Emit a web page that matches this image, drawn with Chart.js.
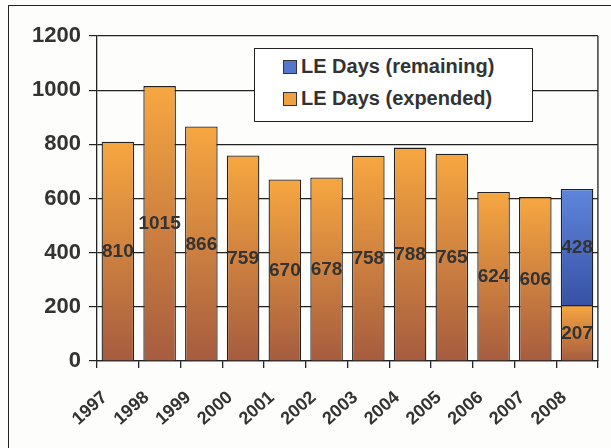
<!DOCTYPE html>
<html>
<head>
<meta charset="utf-8">
<script src="https://cdn.jsdelivr.net/npm/chart.js@4/dist/chart.umd.min.js"></script>
<style>
  body { margin: 0; background: #fdfdfc; }
  #wrap { position: relative; width: 611px; height: 448px; overflow: hidden; }
  #frame { position: absolute; left: 8px; top: 5px; width: 610px; height: 470px; border: 1.5px solid #222; }
  #legendBox { position: absolute; left: 254px; top: 48px; width: 277px; height: 72px; border: 1.5px solid #222; background: #fff;
    font: bold 20px "Liberation Sans", Arial, sans-serif; color: #333; }
  .item { position: absolute; left: 28px; display: flex; align-items: center; white-space: nowrap; }
  .sw { width: 12px; height: 12px; border: 1px solid #333; margin-right: 4px; }
  canvas { position: absolute; left: 0; top: 0; }
</style>
</head>
<body>
<div id="wrap">
  <div id="frame"></div>
  <canvas id="chart" width="611" height="448"></canvas>
  <div id="legendBox">
    <div class="item" style="top:6px"><div class="sw" style="background:#5476cc"></div>LE Days (remaining)</div>
    <div class="item" style="top:38px"><div class="sw" style="background:#f0a040"></div>LE Days (expended)</div>
  </div>
</div>
<script>
// chart data
const years = ['1997', '1998', '1999', '2000', '2001', '2002', '2003', '2004', '2005', '2006', '2007', '2008'];
const daysExpended = [810, 1015, 866, 759, 670, 678, 758, 788, 765, 624, 606, 207];
const daysRemaining = [null, null, null, null, null, null, null, null, null, null, null, 428];
const yTicks = [0, 200, 400, 600, 800, 1000, 1200];

// vertical gradient per bar, from top of the bar to its base
function barGradient(context, topColor, bottomColor) {
    const chart = context.chart;
    if (!chart.chartArea || context.dataIndex === undefined) return topColor;
    const y = chart.scales.y;
    const raw = context.raw;
    if (raw === null || raw === undefined) return topColor;
    let base = 0;
    if (context.datasetIndex === 1) base = daysExpended[context.dataIndex] || 0;
    const top = y.getPixelForValue(base + raw);
    const bottom = y.getPixelForValue(base);
    if (!isFinite(top) || !isFinite(bottom) || top === bottom) return topColor;
    const g = chart.ctx.createLinearGradient(0, top, 0, bottom);
    g.addColorStop(0, topColor);
    g.addColorStop(1, bottomColor);
    return g;
}

// values written in the middle of each bar
const barLabels = {
    id: 'barLabels',
    afterDatasetsDraw(chart) {
        const ctx = chart.ctx;
        ctx.save();
        ctx.font = 'bold 19px "Liberation Sans", Arial, sans-serif';
        ctx.fillStyle = '#333';
        ctx.textAlign = 'center';
        ctx.textBaseline = 'middle';
        chart.data.datasets.forEach((ds, di) => {
            const meta = chart.getDatasetMeta(di);
            meta.data.forEach((bar, i) => {
                if (ds.data[i] === null) return;
                ctx.fillText(ds.data[i], bar.x, (bar.y + bar.base) / 2 + 1);
            });
        });
        ctx.restore();
    }
};

// right edge of the plot frame
const plotFrame = {
    id: 'plotFrame',
    beforeDatasetsDraw(chart) {
        const a = chart.chartArea;
        const ctx = chart.ctx;
        ctx.save();
        ctx.strokeStyle = '#222';
        ctx.lineWidth = 1.3;
        ctx.beginPath();
        ctx.moveTo(a.right, a.top);
        ctx.lineTo(a.right, a.bottom);
        ctx.stroke();
        ctx.restore();
    }
};

new Chart(document.getElementById('chart'), {
    type: 'bar',
    data: {
        labels: years,
        datasets: [{
            label: 'LE Days (expended)',
            data: daysExpended,
            backgroundColor: ctx => barGradient(ctx, '#f7a740', '#a65c3f'),
            borderColor: '#222',
            borderWidth: 1.3,
            barPercentage: 0.78,
            categoryPercentage: 1
        }, {
            label: 'LE Days (remaining)',
            data: daysRemaining,
            backgroundColor: ctx => barGradient(ctx, '#5f86dc', '#3752a6'),
            borderColor: '#222',
            borderWidth: 1.3,
            barPercentage: 0.78,
            categoryPercentage: 1
        }]
    },
    options: {
        responsive: false,
        animation: false,
        layout: { padding: { top: 36, right: 12, left: 0, bottom: 0 } },
        plugins: { legend: { display: false }, tooltip: { enabled: false } },
        scales: {
            x: {
                stacked: true,
                grid: { drawOnChartArea: false, offset: true, color: '#222', lineWidth: 1.3, tickLength: 7 },
                border: { color: '#222', width: 1.3 },
                ticks: {
                    color: '#333',
                    font: { family: '"Liberation Sans", Arial, sans-serif', size: 18, weight: 'bold' },
                    minRotation: 42,
                    maxRotation: 42,
                    padding: 19,
                    labelOffset: -13
                },
                afterFit: scale => { scale.height = 87; }
            },
            y: {
                stacked: true,
                min: 0,
                max: 1200,
                afterBuildTicks: scale => { scale.ticks = yTicks.map(v => ({ value: v })); },
                grid: { color: '#222', lineWidth: 1.2, tickLength: 8 },
                border: { color: '#222', width: 1.3 },
                ticks: {
                    color: '#333',
                    font: { family: '"Liberation Sans", Arial, sans-serif', size: 22, weight: 'bold' },
                    padding: 8,
                    callback: v => String(v)
                },
                afterFit: scale => { scale.width = 97; }
            }
        }
    },
    plugins: [barLabels, plotFrame]
});
</script>
</body>
</html>
